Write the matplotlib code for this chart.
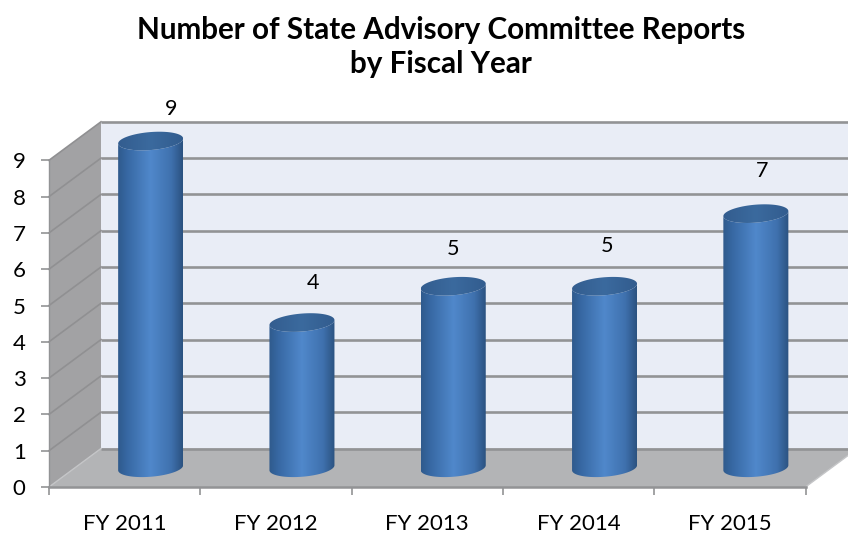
import numpy as np
import matplotlib
matplotlib.use("Agg")
import matplotlib.pyplot as plt
from matplotlib.colors import LinearSegmentedColormap
from matplotlib.patches import Polygon

categories = ["FY 2011", "FY 2012", "FY 2013", "FY 2014", "FY 2015"]
reports = [9, 4, 5, 5, 7]
y_ticks = list(range(10))
title = "Number of State Advisory Committee Reports\nby Fiscal Year"

plt.rcParams["font.family"] = ["Lato", "DejaVu Sans"]
W, H = 848, 533
fig = plt.figure(figsize=(W / 100, H / 100), dpi=100, facecolor="white")
L, R, B, UNIT = 49, 805.5, 487, 36.3
ax = fig.add_axes([L / W, (H - B) / H, (R - L) / W, UNIT * 9 / H])
ax.set_xlim(-0.5, 4.5)
ax.set_ylim(0, 9)
ax.patch.set_visible(False)

px_x = (R - L) / 5
dx, dy = 52 / px_x, 38.5 / UNIT       # depth of the 3-D box in data units
x0, x1 = -0.5, 4.5
GRID = "#929395"

def poly(pts, fc, z):
    ax.add_patch(Polygon(pts, closed=True, fc=fc, ec="none", zorder=z, clip_on=False))

poly([(x0 + dx, dy), (x1 + dx, dy), (x1 + dx, 9 + dy), (x0 + dx, 9 + dy)], "#e9edf6", 0.1)
poly([(x0, 0), (x0 + dx, dy), (x0 + dx, 9 + dy), (x0, 9)], "#a2a2a4", 0.2)
poly([(x0, 0), (x1, 0), (x1 + dx, dy), (x0 + dx, dy)], "#b3b4b6", 0.2)

for v in y_ticks:
    ax.plot([x0 + dx, x1 + dx], [v + dy, v + dy], color=GRID, lw=1.9, zorder=0.5,
            clip_on=False, solid_capstyle="butt")
    if v > 0:
        ax.plot([x0, x0 + dx], [v, v + dy], color="#909092", lw=1.2, zorder=0.5, clip_on=False)
ax.plot([x0, x0 + dx], [0, dy], color="#c4c5c7", lw=1.0, zorder=0.5, clip_on=False)
ax.plot([x1, x1 + dx], [0, dy], color="#c4c5c7", lw=1.0, zorder=0.5, clip_on=False)

# Cylinders
side_cmap = LinearSegmentedColormap.from_list(
    "side", [(0, "#2f5a8c"), (0.14, "#3768a3"), (0.5, "#5088cb"), (0.82, "#3f71ae"), (1, "#2b5280")])
cap_cmap = LinearSegmentedColormap.from_list("cap", ["#335d8f", "#3b6a9e", "#325c8e"])
half_w = 32.5 / px_x
half_h = 9.0 / UNIT
tilt = 2.5 / UNIT / half_w
t = np.linspace(0, 2 * np.pi, 121)
grad = np.linspace(0, 1, 256)[None, :]

for i, v in enumerate(reports):
    cx = i + dx / 2
    base = dy / 2
    top = base + v
    ex = half_w * np.cos(t)
    ey = half_h * np.sin(t) + tilt * ex
    lower = (t >= np.pi) & (t <= 2 * np.pi)
    body = np.vstack([
        np.column_stack([cx + ex[lower], base + ey[lower]]),
        np.column_stack([cx + ex[lower][::-1], top + ey[lower][::-1]]),
    ])
    p = Polygon(body, closed=True, fc="none", ec="none", zorder=2, clip_on=False)
    ax.add_patch(p)
    im = ax.imshow(grad, cmap=side_cmap, extent=(cx - half_w, cx + half_w, base - 1, top + 1),
                   aspect="auto", zorder=2, interpolation="bilinear")
    im.set_clip_path(p)
    im.set_clip_box(fig.bbox)
    c = Polygon(np.column_stack([cx + ex, top + ey]), closed=True, fc="none", ec="none",
                zorder=3, clip_on=False)
    ax.add_patch(c)
    im2 = ax.imshow(grad, cmap=cap_cmap, extent=(cx - half_w, cx + half_w, top - 1, top + 1),
                    aspect="auto", zorder=3, interpolation="bilinear")
    im2.set_clip_path(c)
    im2.set_clip_box(fig.bbox)

ax.set_xlim(-0.5, 4.5)
ax.set_ylim(0, 9)

# Data labels sit by hand-placed offsets in the original (pixels from each cylinder top)
label_offsets = [(20, 32), (11, 40), (0, 37), (2, 40), (6, 43)]
for i, (v, off) in enumerate(zip(reports, label_offsets)):
    ax.annotate(str(v), (i + dx / 2, dy / 2 + v), xytext=(off[0] * 0.72, off[1] * 0.72),
                textcoords="offset points", ha="center", va="center", fontsize=15.5,
                color="black", zorder=5, annotation_clip=False)

# Axes
ax.set_xticks(range(5), categories)
ax.set_xticks(np.arange(-0.5, 5, 1), minor=True)
ax.set_yticks(y_ticks)
ax.tick_params(axis="x", which="major", length=0, pad=19.5, labelsize=16)
ax.tick_params(axis="x", which="minor", length=5.8, width=1.2, color=GRID)
ax.tick_params(axis="y", length=5.8, width=1.2, color=GRID, pad=11, labelsize=16)
for s in ("top", "right"):
    ax.spines[s].set_visible(False)
for s in ("left", "bottom"):
    ax.spines[s].set_color(GRID)
ax.spines["bottom"].set_linewidth(1.8)
ax.spines["left"].set_linewidth(1.0)

fig.text(441 / W, 1 - 47 / H, title, ha="center", va="center", fontsize=21.3,
         fontweight="bold", linespacing=1.22, color="black")

fig.savefig("out.png", dpi=100)
